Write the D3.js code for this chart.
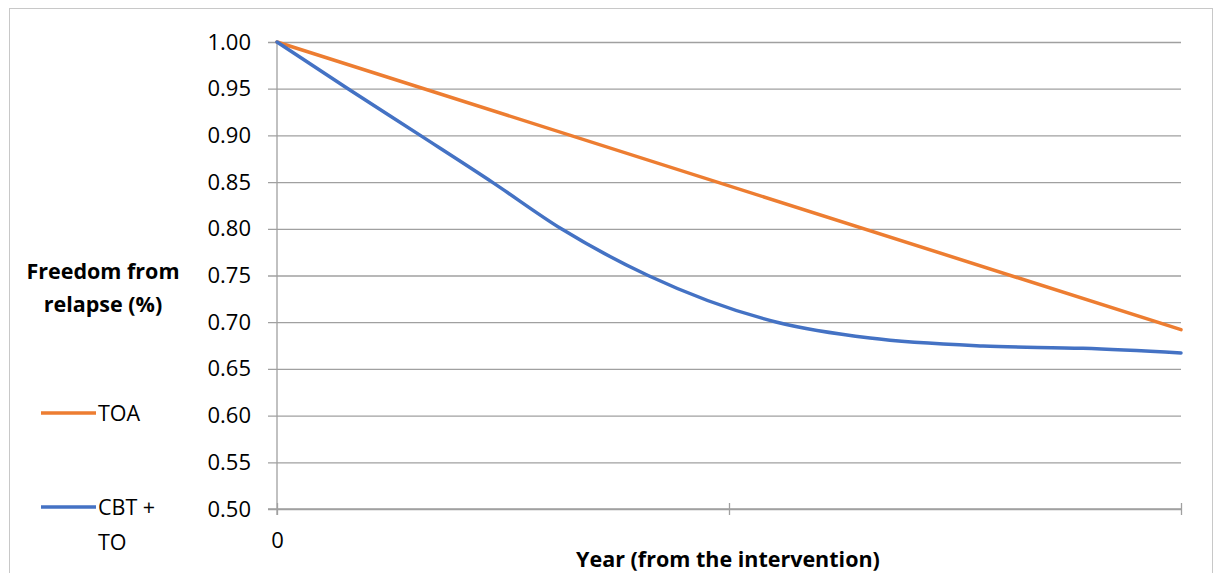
<!DOCTYPE html>
<html>
<head>
<meta charset="utf-8">
<script src="https://cdn.jsdelivr.net/npm/d3@7"></script>
<style>
  html, body { margin: 0; padding: 0; background: #fff; }
  svg { display: block; font-family: "Open Sans", Lato, sans-serif; }
</style>
</head>
<body>
<svg id="chart" width="1221" height="573"></svg>
<script>
// Years since the intervention and freedom-from-relapse proportions
const toaYears = [0, 2];
const toaValues = [1.00, 0.692];

const cbtYears = [0, 0.157, 0.317, 0.476, 0.629, 0.821, 1.106, 1.312, 1.562, 1.783, 2.0];
const cbtValues = [1.00, 0.95, 0.90, 0.85, 0.80, 0.75, 0.70, 0.683, 0.6745, 0.672, 0.667];

const yTicks = [0.50, 0.55, 0.60, 0.65, 0.70, 0.75, 0.80, 0.85, 0.90, 0.95, 1.00];
const xTicks = [0, 1, 2];
const xTickLabels = ["0", "", ""];

const seriesNames = ["TOA", "CBT + TO"];
const seriesColors = ["#ED7D31", "#4472C4"];

const fontMain = "'Open Sans', sans-serif";

const svg = d3.select("#chart");

// Outer chart frame
svg.append("rect")
  .attr("x", 9.5).attr("y", 8.5)
  .attr("width", 1203).attr("height", 600)
  .attr("fill", "none").attr("stroke", "#c8c8c8").attr("stroke-width", 1);

const x = d3.scaleLinear().domain([0, 2]).range([277, 1181]);
const y = d3.scaleLinear().domain([0.5, 1.0]).range([509, 42]);

// Horizontal gridlines with small outer ticks to the left of the axis
const yAxis = d3.axisLeft(y)
  .tickValues(yTicks)
  .tickSize(-(1181 - 268))
  .tickFormat(d3.format(".2f"))
  .tickPadding(17);

const gy = svg.append("g").attr("transform", "translate(268,0)").call(yAxis);
gy.select(".domain").remove();
gy.selectAll(".tick line").attr("stroke", "#a0a0a0").attr("stroke-width", 1.3);
gy.selectAll(".tick text")
  .attr("font-size", 22).attr("fill", "#000")
  .attr("font-family", fontMain);

// Vertical axis line
svg.append("line")
  .attr("x1", x(0)).attr("x2", x(0))
  .attr("y1", y(1.0)).attr("y2", 515)
  .attr("stroke", "#a0a0a0").attr("stroke-width", 1.3);

// Horizontal axis with crossing tick marks
const xAxis = d3.axisBottom(x)
  .tickValues(xTicks)
  .tickSize(6)
  .tickFormat((d, i) => xTickLabels[i])
  .tickPadding(17);
const gx = svg.append("g").attr("transform", `translate(0,${y(0.5)})`).call(xAxis);
gx.select(".domain").attr("stroke", "#a0a0a0").attr("stroke-width", 1.3)
  .attr("d", `M268,0H${x(2)}`);
gx.selectAll(".tick line").attr("y1", -6).attr("y2", 6)
  .attr("stroke", "#a0a0a0").attr("stroke-width", 1.3);
gx.selectAll(".tick text")
  .attr("font-size", 22).attr("fill", "#000")
  .attr("font-family", fontMain);

// Series lines
const line = d3.line()
  .x(d => x(d[0]))
  .y(d => y(d[1]))
  .curve(d3.curveMonotoneX);

const series = [
  d3.zip(toaYears, toaValues),
  d3.zip(cbtYears, cbtValues)
];

series.forEach((pts, i) => {
  svg.append("path")
    .datum(pts)
    .attr("d", line)
    .attr("fill", "none")
    .attr("stroke", seriesColors[i])
    .attr("stroke-width", 3.5)
    .attr("stroke-linecap", "round")
    .attr("stroke-linejoin", "round");
});

// Y-axis title
const yTitle = svg.append("text")
  .attr("x", 103).attr("y", 279)
  .attr("text-anchor", "middle")
  .attr("font-family", fontMain)
  .attr("font-weight", "bold").attr("font-size", 21.5).attr("fill", "#000");
yTitle.append("tspan").attr("x", 103).attr("dy", 0).text("Freedom from");
yTitle.append("tspan").attr("x", 103).attr("dy", 33).text("relapse (%)");

// X-axis title
svg.append("text")
  .attr("x", 728).attr("y", 567)
  .attr("text-anchor", "middle")
  .attr("font-family", fontMain)
  .attr("font-weight", "bold").attr("font-size", 21.5).attr("fill", "#000")
  .text("Year (from the intervention)");

// Legend
const legendRows = [
  { y: 413, lines: ["TOA"] },
  { y: 507, lines: ["CBT +", "TO"] }
];
legendRows.forEach((row, i) => {
  svg.append("line")
    .attr("x1", 41).attr("x2", 96)
    .attr("y1", row.y).attr("y2", row.y)
    .attr("stroke", seriesColors[i]).attr("stroke-width", 3.5);
  const t = svg.append("text")
    .attr("x", 98).attr("y", row.y + 8)
    .attr("font-family", fontMain)
    .attr("font-size", 21.5).attr("fill", "#000");
  row.lines.forEach((s, j) => {
    t.append("tspan").attr("x", 98).attr("dy", j === 0 ? 0 : 35).text(s);
  });
});
</script>
</body>
</html>
